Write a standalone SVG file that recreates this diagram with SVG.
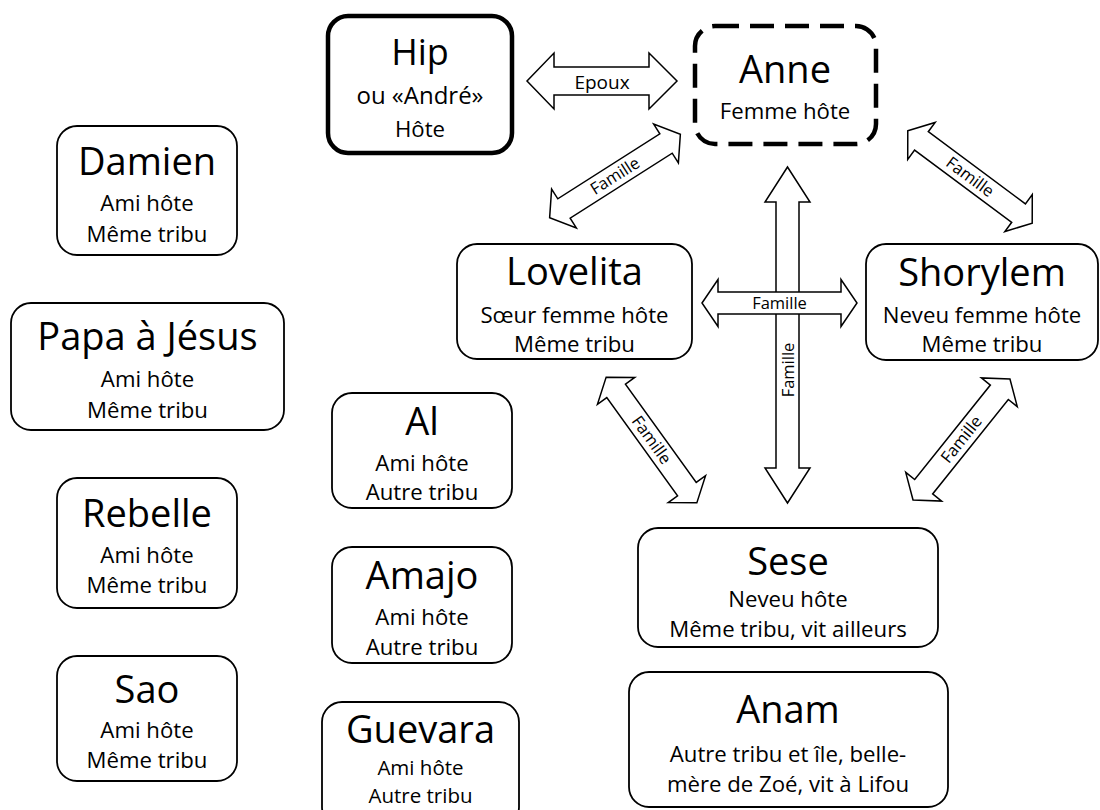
<svg xmlns="http://www.w3.org/2000/svg" width="1100" height="810" viewBox="0 0 1100 810">
<defs>
<style>
text{font-family:"Open Sans","Liberation Sans",sans-serif;fill:#000;text-anchor:middle}
.box{fill:#fff;stroke:#000;stroke-width:1.8}
.thick{fill:#fff;stroke:#000;stroke-width:4.5}
.dash{fill:#fff;stroke:#000;stroke-width:4.5;stroke-dasharray:24 11}
.nm{font-size:38px}
.sb{font-size:22.2px}
.arr{fill:#fff;stroke:#000;stroke-width:1.5;stroke-linejoin:miter}
.lbl{font-size:16.5px}
</style>
<polygon id="dg" points="-77.5,0 -60.5,-23 -60.5,-11.5 60.5,-11.5 60.5,-23 77.5,0 60.5,23 60.5,11.5 -60.5,11.5 -60.5,23"/>
</defs>
<rect width="1100" height="810" fill="#fff"/>

<g id="connectors">
  <g id="epoux">
    <polygon class="arr" points="527,81 554,53 554,67 649,67 649,53 677,81 649,109 649,95 554,95 554,109"/>
    <text x="602" y="89" style="font-size:19px">Epoux</text>
  </g>
  <g id="lovelita-anne" transform="translate(615,176) rotate(-32.5)">
    <use href="#dg" class="arr"/>
    <text x="0" y="5.5" class="lbl">Famille</text>
  </g>
  <g id="anne-shorylem" transform="translate(970,177) rotate(36.6)">
    <use href="#dg" class="arr"/>
    <text x="0" y="5.5" class="lbl">Famille</text>
  </g>
  <g id="anne-sese">
    <polygon class="arr" points="787.5,167 810,202 799,202 799,468 810,468 787.5,503 765,468 776,468 776,202 765,202"/>
    <text transform="translate(793.5,370) rotate(-90)" x="0" y="0" class="lbl">Famille</text>
  </g>
  <g id="lovelita-shorylem">
    <polygon class="arr" points="702,303 718,279.5 718,292 841,292 841,279.5 857,303 841,326.5 841,314 718,314 718,326.5"/>
    <text x="779.5" y="309" class="lbl">Famille</text>
  </g>
  <g id="lovelita-sese" transform="translate(651.5,440) rotate(54.2)">
    <use href="#dg" class="arr"/>
    <text x="0" y="5.5" class="lbl">Famille</text>
  </g>
  <g id="shorylem-sese" transform="translate(961.5,439.5) rotate(-51.3)">
    <use href="#dg" class="arr"/>
    <text x="0" y="5.5" class="lbl">Famille</text>
  </g>
</g>

<g id="hip">
  <rect class="thick" x="328" y="16" width="184" height="137" rx="20"/>
  <text x="420" y="65" style="font-size:36px">Hip</text>
  <text x="420" y="104" style="font-size:24px">ou «André»</text>
  <text x="420" y="137" style="font-size:22.2px">Hôte</text>
</g>
<g id="anne">
  <rect class="dash" x="695" y="26" width="181" height="118" rx="20"/>
  <text x="785" y="83" class="nm">Anne</text>
  <text x="785" y="119" class="sb">Femme hôte</text>
</g>
<g id="damien">
  <rect class="box" x="57" y="126" width="180" height="129" rx="20"/>
  <text x="147" y="175" class="nm">Damien</text>
  <text x="147" y="211" class="sb">Ami hôte</text>
  <text x="147" y="242" class="sb">Même tribu</text>
</g>
<g id="papa">
  <rect class="box" x="11" y="303" width="273" height="127" rx="20"/>
  <text x="147.5" y="350" class="nm">Papa à Jésus</text>
  <text x="147.5" y="387" class="sb">Ami hôte</text>
  <text x="147.5" y="418" class="sb">Même tribu</text>
</g>
<g id="rebelle">
  <rect class="box" x="57" y="478" width="180" height="130" rx="20"/>
  <text x="147" y="527" class="nm">Rebelle</text>
  <text x="147" y="563" class="sb">Ami hôte</text>
  <text x="147" y="593" class="sb">Même tribu</text>
</g>
<g id="sao">
  <rect class="box" x="57" y="656" width="180" height="125" rx="20"/>
  <text x="147" y="703" class="nm">Sao</text>
  <text x="147" y="738" class="sb">Ami hôte</text>
  <text x="147" y="768" class="sb">Même tribu</text>
</g>
<g id="al">
  <rect class="box" x="332" y="393" width="180" height="115" rx="20"/>
  <text x="422" y="435" class="nm">Al</text>
  <text x="422" y="471" class="sb">Ami hôte</text>
  <text x="422" y="500" class="sb">Autre tribu</text>
</g>
<g id="amajo">
  <rect class="box" x="332" y="547" width="180" height="116" rx="20"/>
  <text x="422" y="589" class="nm">Amajo</text>
  <text x="422" y="625" class="sb">Ami hôte</text>
  <text x="422" y="655" class="sb">Autre tribu</text>
</g>
<g id="guevara">
  <rect class="box" x="322" y="702" width="197" height="125" rx="20"/>
  <text x="420.5" y="743" class="nm">Guevara</text>
  <text x="420.5" y="775" style="font-size:20.5px">Ami hôte</text>
  <text x="420.5" y="803" style="font-size:20.5px">Autre tribu</text>
</g>
<g id="lovelita">
  <rect class="box" x="457" y="244" width="235" height="115" rx="20"/>
  <text x="574.5" y="285" class="nm">Lovelita</text>
  <text x="574.5" y="323" class="sb">Sœur femme hôte</text>
  <text x="574.5" y="352" class="sb">Même tribu</text>
</g>
<g id="shorylem">
  <rect class="box" x="866" y="244" width="232" height="116" rx="20"/>
  <text x="982" y="286" class="nm">Shorylem</text>
  <text x="982" y="323" class="sb">Neveu femme hôte</text>
  <text x="982" y="352" class="sb">Même tribu</text>
</g>
<g id="sese">
  <rect class="box" x="638" y="528" width="300" height="119" rx="20"/>
  <text x="788" y="575" class="nm">Sese</text>
  <text x="788" y="607" class="sb">Neveu hôte</text>
  <text x="788" y="637" class="sb">Même tribu, vit ailleurs</text>
</g>
<g id="anam">
  <rect class="box" x="629" y="672" width="319" height="135" rx="20"/>
  <text x="788" y="723" class="nm">Anam</text>
  <text x="788" y="762" class="sb">Autre tribu et île, belle-</text>
  <text x="788" y="792" class="sb">mère de Zoé, vit à Lifou</text>
</g>
</svg>
